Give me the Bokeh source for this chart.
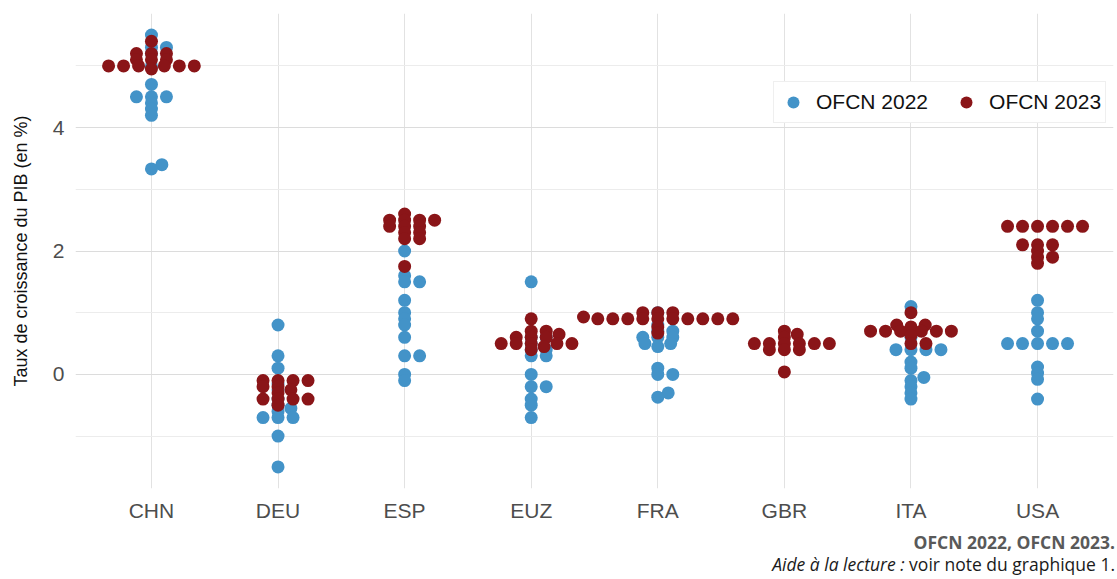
import numpy as np
from bokeh.plotting import figure
from bokeh.models import Range1d, FixedTicker, Legend, LegendItem, ColumnDataSource, Div
from bokeh.layouts import column
from bokeh.embed import file_html
from bokeh.resources import INLINE

categories = ["CHN", "DEU", "ESP", "EUZ", "FRA", "GBR", "ITA", "USA"]

# OFCN 2022 forecasts (growth rate, %)
chn_2022 = [5.5, 5.3, 5.3, 5.2, 5.0, 4.7, 4.5, 4.5, 4.5, 4.4, 4.3, 4.2, 3.4, 3.33]
deu_2022 = [0.8, 0.3, 0.1, -0.15, -0.25, -0.4, -0.5, -0.55, -0.6, -0.7, -0.7, -0.7, -1.0, -1.5]
esp_2022 = [2.0, 1.6, 1.5, 1.5, 1.2, 1.0, 0.9, 0.8, 0.6, 0.3, 0.3, 0.0, -0.1]
euz_2022 = [1.5, 0.6, 0.6, 0.5, 0.4, 0.4, 0.3, 0.3, 0.0, -0.2, -0.2, -0.4, -0.5, -0.7]
fra_2022 = [1.0, 0.8, 0.7, 0.7, 0.6, 0.6, 0.6, 0.5, 0.5, 0.45, 0.1, 0.0, 0.0, -0.3, -0.37]
gbr_2022 = []
ita_2022 = [1.1, 0.6, 0.4, 0.4, 0.4, 0.4, 0.2, 0.1, -0.05, -0.1, -0.2, -0.3, -0.4]
usa_2022 = [1.2, 1.0, 0.9, 0.7, 0.5, 0.5, 0.5, 0.5, 0.5, 0.12, 0.02, -0.08, -0.4]

# OFCN 2023 forecasts (growth rate, %)
chn_2023 = [5.4, 5.2, 5.2, 5.2, 5.1, 5.1, 5.1, 5.0, 5.0, 5.0, 5.0, 5.0, 5.0, 4.95]
deu_2023 = [-0.1, -0.1, -0.1, -0.1, -0.2, -0.2, -0.25, -0.3, -0.4, -0.4, -0.4, -0.4, -0.5]
esp_2023 = [2.6, 2.5, 2.5, 2.5, 2.5, 2.4, 2.4, 2.4, 2.3, 2.3, 2.2, 2.2, 1.75]
euz_2023 = [0.9, 0.7, 0.7, 0.65, 0.6, 0.6, 0.6, 0.5, 0.5, 0.5, 0.5, 0.5, 0.45, 0.4]
fra_2023 = [1.0, 1.0, 1.0, 0.93, 0.9, 0.9, 0.9, 0.9, 0.9, 0.9, 0.9, 0.9, 0.9, 0.9, 0.77, 0.67]
gbr_2023 = [0.7, 0.65, 0.6, 0.5, 0.5, 0.5, 0.5, 0.5, 0.5, 0.4, 0.4, 0.4, 0.04]
ita_2023 = [1.0, 0.8, 0.8, 0.77, 0.7, 0.7, 0.7, 0.7, 0.7, 0.7, 0.63, 0.5, 0.5]
usa_2023 = [2.4, 2.4, 2.4, 2.4, 2.4, 2.4, 2.1, 2.1, 2.1, 2.0, 1.9, 1.9, 1.8]

series_2022 = [chn_2022, deu_2022, esp_2022, euz_2022, fra_2022, gbr_2022, ita_2022, usa_2022]
series_2023 = [chn_2023, deu_2023, esp_2023, euz_2023, fra_2023, gbr_2023, ita_2023, usa_2023]

BLUE = "#4393C8"
RED = "#8A1518"

W, H = 1117, 531
BL, BR, BT, BB = 75, 4, 13, 43
X0, X1 = 0.4, 8.6
Y0, Y1 = -1.85, 5.85
xpx = (W - BL - BR) / (X1 - X0)
ypx = (H - BT - BB) / (Y1 - Y0)


def swarm(vals, sp=15.0, k=2.5):
    vals = np.asarray(vals, dtype=float)
    out = np.zeros(len(vals))
    placed = []
    for i in np.argsort(vals, kind="stable"):
        y = vals[i] * ypx * k
        cands = [0.0]
        for xj, yj in placed:
            dy = abs(y - yj)
            if dy < sp:
                off = np.sqrt(sp * sp - dy * dy)
                cands += [xj + off, xj - off]
        valid = [c for c in cands
                 if all((c - xj) ** 2 + (y - yj) ** 2 >= sp * sp - 1e-6 for xj, yj in placed)]
        best = min(valid, key=abs)
        placed.append((best, y))
        out[i] = best
    return out / xpx


def build(series):
    xs, ys = [], []
    for idx, vals in enumerate(series):
        if not vals:
            continue
        offs = swarm(vals)
        xs += list(idx + 1 + offs)
        ys += list(vals)
    return ColumnDataSource(dict(x=xs, y=ys))


p = figure(width=W, height=H, x_range=Range1d(X0, X1), y_range=Range1d(Y0, Y1),
           output_backend="svg", toolbar_location=None,
           min_border_left=BL, min_border_right=BR, min_border_top=BT, min_border_bottom=BB)
p.outline_line_color = None
p.background_fill_color = "white"

p.xgrid.ticker = FixedTicker(ticks=list(range(1, 9)))
p.xgrid.grid_line_color = "#e2e2e2"
p.ygrid.ticker = FixedTicker(ticks=[0, 2, 4], minor_ticks=[-1, 1, 3, 5])
p.ygrid.grid_line_color = "#dcdcdc"
p.ygrid.minor_grid_line_color = "#ececec"

p.xaxis.ticker = FixedTicker(ticks=list(range(1, 9)))
p.xaxis.major_label_overrides = {i + 1: c for i, c in enumerate(categories)}
p.yaxis.ticker = FixedTicker(ticks=[0, 2, 4])
for ax in (p.xaxis[0], p.yaxis[0]):
    ax.axis_line_color = None
    ax.major_tick_line_color = None
    ax.minor_tick_line_color = None
    ax.major_tick_out = 0
    ax.major_label_text_font = "Liberation Sans"
    ax.major_label_text_font_size = "21px"
    ax.major_label_text_color = "#4d4d4d"
p.xaxis.major_label_standoff = 10
p.yaxis.major_label_standoff = 11
p.yaxis.axis_label = "Taux de croissance du PIB (en %)"
p.yaxis.axis_label_text_font = "Liberation Sans"
p.yaxis.axis_label_text_font_size = "18px"
p.yaxis.axis_label_text_font_style = "normal"
p.yaxis.axis_label_text_color = "#111111"
p.yaxis.axis_label_standoff = 19

r1 = p.scatter("x", "y", source=build(series_2022), size=13, color=BLUE, line_width=0)
r2 = p.scatter("x", "y", source=build(series_2023), size=13, color=RED, line_width=0)

legend = Legend(items=[LegendItem(label="OFCN 2022", renderers=[r1]),
                       LegendItem(label="OFCN 2023", renderers=[r2])],
                orientation="horizontal", location=(698, 365),
                border_line_color="#e0e0e0", border_line_width=1,
                background_fill_color="white", background_fill_alpha=1,
                label_text_font="Liberation Sans", label_text_font_size="21px",
                label_text_color="#111111",
                glyph_width=30, glyph_height=32, label_standoff=8, spacing=23,
                padding=4, margin=0)
p.add_layout(legend)

caption = Div(
    text=('<div style="width:1115px;text-align:right;font-family:\'Open Sans\',sans-serif;'
          'font-size:17.5px;line-height:22px;color:#1a1a1a;">'
          '<b style="color:#595959;">OFCN 2022, OFCN 2023.</b><br>'
          '<i>Aide à la lecture :</i> voir note du graphique 1.</div>'),
    width=W, height=579 - H, margin=(0, 0, 0, 0))

layout = column(p, caption, spacing=0)
open("out.html", "w").write(file_html(layout, INLINE))
